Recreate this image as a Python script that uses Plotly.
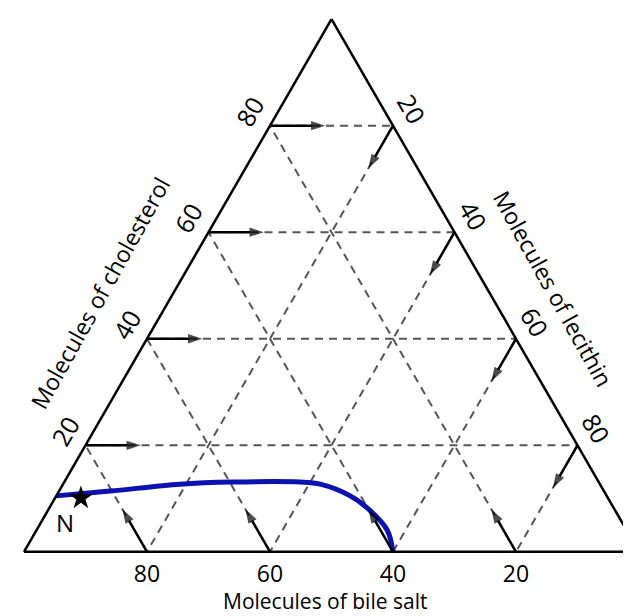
import plotly.graph_objects as go

# ---------------- data ----------------
tick_values = [20, 40, 60, 80]
tick_labels = ["20", "40", "60", "80"]

# blue solubility boundary (cholesterol, bile salt, lecithin) in molecules %
curve_cholesterol = [10.5, 11.4, 12.7, 13.1, 13.1, 12.7, 10.5, 7.8, 4.1, 0.0]
curve_bile_salt   = [89.5, 80.3, 68.3, 59.5, 48.6, 45.5, 41.7, 39.9, 38.9, 40.0]
curve_lecithin    = [0.0, 8.3, 19.0, 27.4, 38.3, 41.8, 47.8, 52.4, 57.0, 60.0]

# normal bile point N
n_cholesterol = [10.1]
n_bile_salt = [85.7]
n_lecithin = [4.2]

axis_titles = ["Molecules of cholesterol", "Molecules of bile salt", "Molecules of lecithin"]

# ---------------- style ----------------
W, H = 631, 616
ML, MR, MT, MB = 16, 0, 11, 72
PAGE_OFFSET = 8  # default body margin of the html page
FONT = "Open Sans"
BLUE = "#0c12b0"
GRID = "#555555"
arrow_len = {"a": 9, "b": 8, "c": 8}


def px_to_paper(px, py):
    px -= PAGE_OFFSET
    py -= PAGE_OFFSET
    return (px - ML) / (W - ML - MR), 1 - (py - MT) / (H - MT - MB)


fig = go.Figure()

# blue boundary curve
fig.add_trace(go.Scatterternary(
    a=curve_cholesterol, b=curve_bile_salt, c=curve_lecithin,
    mode="lines", line=dict(color=BLUE, width=5, shape="spline", smoothing=1.0),
    hoverinfo="skip", showlegend=False, cliponaxis=False,
))

# reading-direction arrows at each tick
for v in tick_values:
    la, lb, lc = arrow_len["a"], arrow_len["b"], arrow_len["c"]
    segs = [
        ([v, v], [100 - v, 100 - v - la], [0, la]),          # cholesterol: horizontal to the right
        ([100 - v, 100 - v - lc], [0, lc], [v, v]),          # lecithin: down-left
        ([0, lb], [v, v], [100 - v, 100 - v - lb]),          # bile salt: up-left
    ]
    for a, b, c in segs:
        fig.add_trace(go.Scatterternary(
            a=a, b=b, c=c, mode="lines+markers",
            line=dict(color="black", width=2.5),
            marker=dict(symbol=["circle", "arrow"], size=[0, 15], color="black",
                        angleref="previous", line=dict(width=0)),
            hoverinfo="skip", showlegend=False, cliponaxis=False,
        ))

# point N
fig.add_trace(go.Scatterternary(
    a=n_cholesterol, b=n_bile_salt, c=n_lecithin, mode="markers",
    marker=dict(symbol="star", size=18, color="black", line=dict(width=0)),
    hoverinfo="skip", showlegend=False, cliponaxis=False,
))

axis_common = dict(
    tickvals=tick_values, ticktext=tick_labels,
    showgrid=True, gridcolor=GRID, gridwidth=1.5, griddash="8px,6px",
    showline=True, linecolor="black", linewidth=2.5,
    ticks="outside", ticklen=3, tickcolor="rgba(0,0,0,0)",
    tickfont=dict(family=FONT, size=25, color="black"),
    title=dict(text=""),
)

fig.update_layout(
    width=W, height=H,
    margin=dict(l=ML, r=MR, t=MT, b=MB),
    paper_bgcolor="white",
    showlegend=False,
    ternary=dict(
        sum=100,
        bgcolor="white",
        domain=dict(x=[0, 1], y=[0, 1]),
        aaxis=dict(axis_common, tickangle=-60),
        baxis=dict(axis_common, tickangle=0, ticklen=0,
                   tickfont=dict(family=FONT, size=23, color="black")),
        caxis=dict(axis_common, tickangle=60),
    ),
)

title_font = dict(family=FONT, size=23, color="black")
# axis titles along the sides
tx, ty = px_to_paper(100, 293)
fig.add_annotation(x=tx, y=ty, xref="paper", yref="paper", text=axis_titles[0],
                   textangle=-61, showarrow=False, xanchor="center", yanchor="middle",
                   font=title_font)
tx, ty = px_to_paper(325, 601)
fig.add_annotation(x=tx, y=ty, xref="paper", yref="paper", text=axis_titles[1],
                   showarrow=False, xanchor="center", yanchor="middle",
                   font=dict(family=FONT, size=21, color="black"))
tx, ty = px_to_paper(553, 288)
fig.add_annotation(x=tx, y=ty, xref="paper", yref="paper", text=axis_titles[2],
                   textangle=61, showarrow=False, xanchor="center", yanchor="middle",
                   font=title_font)
# label N
tx, ty = px_to_paper(65, 522)
fig.add_annotation(x=tx, y=ty, xref="paper", yref="paper", text="N",
                   showarrow=False, xanchor="center", yanchor="middle",
                   font=dict(family=FONT, size=24, color="black"))

fig.write_html("out.html")
